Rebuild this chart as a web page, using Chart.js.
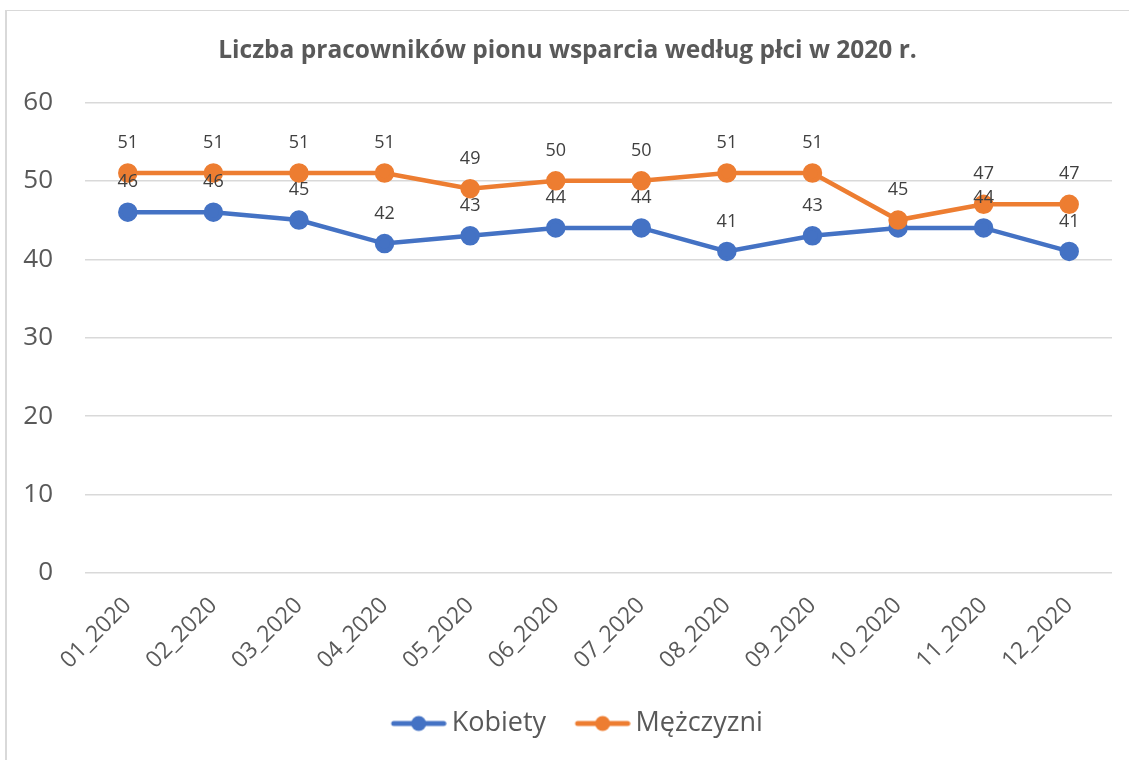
<!DOCTYPE html>
<html lang="pl">
<head>
<meta charset="utf-8">
<title>Liczba pracowników pionu wsparcia</title>
<script src="https://cdn.jsdelivr.net/npm/chart.js@4.4.1/dist/chart.umd.min.js"></script>
<style>
    html, body { margin: 0; padding: 0; background: #fff; overflow: hidden; }
    #ramka {
        position: absolute; left: 5px; top: 10px;
        width: 1122px; height: 749px;
        border-left: 2px solid #d9d9d9; border-top: 1px solid #d9d9d9;
    }
</style>
</head>
<body>
<div id="ramka"><canvas id="chartPion"></canvas></div>
<script>
const miesiace = ['01_2020', '02_2020', '03_2020', '04_2020', '05_2020', '06_2020',
                  '07_2020', '08_2020', '09_2020', '10_2020', '11_2020', '12_2020'];
const kobiety = [46, 46, 45, 42, 43, 44, 44, 41, 43, 44, 44, 41];
const mezczyzni = [51, 51, 51, 51, 49, 50, 50, 51, 51, 45, 47, 47];
const osY = {min: 0, max: 60, krok: 10};
// etykieta Kobiety dla 10_2020 nie jest pokazana na oryginale
const ukryteEtykietyKobiety = [9];

const NIEBIESKI = '#4472C4';
const POMARANCZ = '#ED7D31';
const SZARY = '#595959';
const FONT = '"Open Sans", "Noto Sans", sans-serif';

// ikonka do legendy: linia z kropka, z lewej przezroczysty margines (odstep miedzy pozycjami)
const SZER_IKONY = 66;
function ikonaLegendy(kolor) {
    const c = document.createElement('canvas');
    c.width = SZER_IKONY + 17;
    c.height = 18;
    const g = c.getContext('2d');
    const koniec = c.width - 3;
    const start = koniec - 50;
    g.strokeStyle = kolor;
    g.lineWidth = 5;
    g.lineCap = 'round';
    g.beginPath();
    g.moveTo(start, 9);
    g.lineTo(koniec, 9);
    g.stroke();
    g.fillStyle = kolor;
    g.beginPath();
    g.arc((start + koniec) / 2, 9, 7.5, 0, Math.PI * 2);
    g.fill();
    return c;
}

// wartosci nad punktami
const etykietyDanych = {
    id: 'etykietyDanych',
    afterDatasetsDraw(chart) {
        const ctx = chart.ctx;
        ctx.save();
        ctx.font = '18px ' + FONT;
        ctx.fillStyle = '#404040';
        ctx.textAlign = 'center';
        ctx.textBaseline = 'middle';
        chart.data.datasets.forEach((ds, i) => {
            const ukryte = ds.ukryteEtykiety || [];
            chart.getDatasetMeta(i).data.forEach((pt, j) => {
                if (ukryte.includes(j)) return;
                ctx.fillText(ds.data[j], pt.x, pt.y - 30);
            });
        });
        ctx.restore();
    }
};

function drawPion() {
    const ctx = document.getElementById('chartPion').getContext('2d');
    const ikony = [ikonaLegendy(NIEBIESKI), ikonaLegendy(POMARANCZ)];
    new Chart(ctx, {
        type: 'line',
        data: {
            labels: miesiace,
            datasets: [
                {
                    label: 'Kobiety',
                    data: kobiety,
                    ukryteEtykiety: ukryteEtykietyKobiety,
                    borderColor: NIEBIESKI,
                    backgroundColor: NIEBIESKI,
                    borderWidth: 4.5,
                    pointRadius: 7.5,
                    pointHoverRadius: 7.5,
                    tension: 0,
                    order: 1
                },
                {
                    label: 'Mężczyzni',
                    data: mezczyzni,
                    borderColor: POMARANCZ,
                    backgroundColor: POMARANCZ,
                    borderWidth: 4.5,
                    pointRadius: 7.5,
                    pointHoverRadius: 7.5,
                    tension: 0,
                    order: 0
                }
            ]
        },
        options: {
            responsive: true,
            maintainAspectRatio: false,
            animation: false,
            layout: {
                padding: {left: 16, right: 17, top: 0, bottom: 13}
            },
            scales: {
                x: {
                    offset: true,
                    grid: {display: false, drawTicks: false},
                    border: {display: false},
                    ticks: {
                        color: SZARY,
                        font: {family: FONT, size: 23},
                        maxRotation: 45,
                        minRotation: 45,
                        padding: 19,
                        autoSkip: false
                    },
                    afterFit: function (scale) {
                        scale.height = 127;
                    }
                },
                y: {
                    min: osY.min,
                    max: osY.max,
                    grid: {color: '#d9d9d9', lineWidth: 1.5, drawTicks: false},
                    border: {display: false},
                    ticks: {
                        stepSize: osY.krok,
                        color: SZARY,
                        font: {family: FONT, size: 26},
                        padding: 32
                    },
                    afterFit: function (scale) {
                        scale.width = 62;
                    }
                }
            },
            plugins: {
                title: {
                    display: true,
                    text: 'Liczba pracowników pionu wsparcia według płci w 2020 r.',
                    color: SZARY,
                    font: {family: FONT, size: 24.5, weight: 'bold'},
                    padding: {top: 25, bottom: 37}
                },
                legend: {
                    position: 'bottom',
                    labels: {
                        usePointStyle: true,
                        pointStyleWidth: SZER_IKONY,
                        color: SZARY,
                        font: {family: FONT, size: 27},
                        padding: 10,
                        generateLabels: function (chart) {
                            return chart.data.datasets.map((ds, i) => ({
                                text: ds.label,
                                fillStyle: ds.borderColor,
                                strokeStyle: ds.borderColor,
                                fontColor: SZARY,
                                lineWidth: 0,
                                hidden: false,
                                pointStyle: ikony[i],
                                datasetIndex: i
                            }));
                        }
                    }
                },
                tooltip: {enabled: false}
            }
        },
        plugins: [etykietyDanych]
    });
}

drawPion();
</script>
</body>
</html>
